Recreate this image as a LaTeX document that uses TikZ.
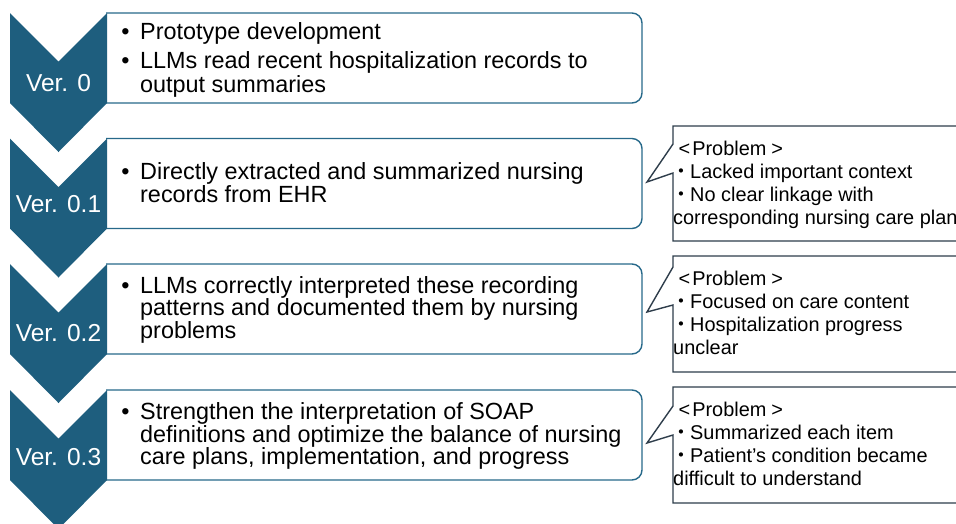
\documentclass[tikz,border=0pt]{standalone}
\usepackage{fontspec}
\setmainfont{Liberation Sans}
\newfontfamily\cjkfont{Noto Sans CJK JP}
\definecolor{chev}{HTML}{1E5E7E}
\definecolor{boxc}{HTML}{27698A}
\definecolor{callc}{HTML}{2E3D4B}
\newcommand\ltb{\hspace*{5.5pt}<\hspace*{2pt}}
\newcommand\gtb{\hspace*{5pt}>}
\newcommand\mdot{\makebox[17pt]{\cjkfont ・}}
\tikzset{
  chevfill/.style={fill=chev,draw=none},
  verbox/.style={draw=boxc,line width=1.4pt,rounded corners=10pt,fill=white},
  callbox/.style={draw=callc,line width=1.4pt,fill=white,line join=miter},
  vertext/.style={text=white,font=\fontsize{24.5}{26}\selectfont,inner sep=0pt,anchor=base},
  maintext/.style={font=\fontsize{23.4}{25}\selectfont,inner sep=0pt,anchor=base west},
  bullettext/.style={font=\fontsize{23.4}{25}\selectfont,inner sep=0pt,anchor=base},
  calltext/.style={font=\fontsize{19.9}{22}\selectfont,inner sep=0pt,anchor=base west}
}
\begin{document}
\begin{tikzpicture}[x=1pt,y=-1pt]
\useasboundingbox (0,0) rectangle (956,523);
\clip (0,0) rectangle (956,523);
% version boxes
\foreach \t in {13,138.5,264,390}{
  \draw[verbox] (106,\t) -- (642,\t) -- (642,{\t+90}) -- (106,{\t+90});
}
% chevrons
\foreach \t in {13,138.5,264,390}{
  \fill[chevfill] (10,\t) -- (58.5,{\t+48.5}) -- (107,\t) -- (107,{\t+90})
     -- (58.5,{\t+139}) -- (10,{\t+90}) -- cycle;
}
% version labels
\node[vertext] (v0) at (58.5,91) {Ver. 0};
\node[vertext] (v1) at (58.5,212) {Ver. 0.1};
\node[vertext] (v2) at (58.5,341) {Ver. 0.2};
\node[vertext] (v3) at (58.5,465) {Ver. 0.3};
% Ver 0 text
\node[bullettext] (b0a) at (125.5,39) {•};
\node[maintext] (t0a) at (140,39) {Prototype development};
\node[bullettext] (b0b) at (125.5,68) {•};
\node[maintext] (t0b) at (140,68) {LLMs read recent hospitalization records to};
\node[maintext] (t0c) at (140,92) {output summaries};
% Ver 0.1 text
\node[bullettext] (b1a) at (125.5,179) {•};
\node[maintext] (t1a) at (140,179) {Directly extracted and summarized nursing};
\node[maintext] (t1b) at (140,202) {records from EHR};
% Ver 0.2 text
\node[bullettext] (b2a) at (125.5,293) {•};
\node[maintext] (t2a) at (140,293) {LLMs correctly interpreted these recording};
\node[maintext] (t2b) at (140,315.5) {patterns and documented them by nursing};
\node[maintext] (t2c) at (140,338) {problems};
% Ver 0.3 text
\node[bullettext] (b3a) at (125.5,419) {•};
\node[maintext] (t3a) at (140,419) {Strengthen the interpretation of SOAP};
\node[maintext] (t3b) at (140,442) {definitions and optimize the balance of nursing};
\node[maintext] (t3c) at (140,464) {care plans, implementation, and progress};
% callouts
\draw[callbox] (1000,126) -- (673,126) -- (673,144) -- (647,182) -- (673,173) -- (673,241) -- (1000,241);
\draw[callbox] (1000,256) -- (673,256) -- (673,267) -- (647,312) -- (673,305) -- (673,372) -- (1000,372);
\draw[callbox] (1000,387) -- (673,387) -- (673,406) -- (647,443) -- (673,435) -- (673,503) -- (1000,503);
% callout 1 text
\node[calltext] (p1a) at (673,155.5) {\ltb{}Problem\gtb};
\node[calltext] (p1b) at (673,178.5) {\mdot Lacked important context};
\node[calltext] (p1c) at (673,201.5) {\mdot No clear linkage with};
\node[calltext] (p1d) at (673,224) {corresponding nursing care plan};
% callout 2 text
\node[calltext] (p2a) at (673,285.5) {\ltb{}Problem\gtb};
\node[calltext] (p2b) at (673,308.5) {\mdot Focused on care content};
\node[calltext] (p2c) at (673,331.5) {\mdot Hospitalization progress};
\node[calltext] (p2d) at (673,354.5) {unclear};
% callout 3 text
\node[calltext] (p3a) at (673,416.5) {\ltb{}Problem\gtb};
\node[calltext] (p3b) at (673,439.5) {\mdot Summarized each item};
\node[calltext] (p3c) at (673,462.5) {\mdot Patient’s condition became};
\node[calltext] (p3d) at (673,485.5) {difficult to understand};
\end{tikzpicture}
\end{document}
